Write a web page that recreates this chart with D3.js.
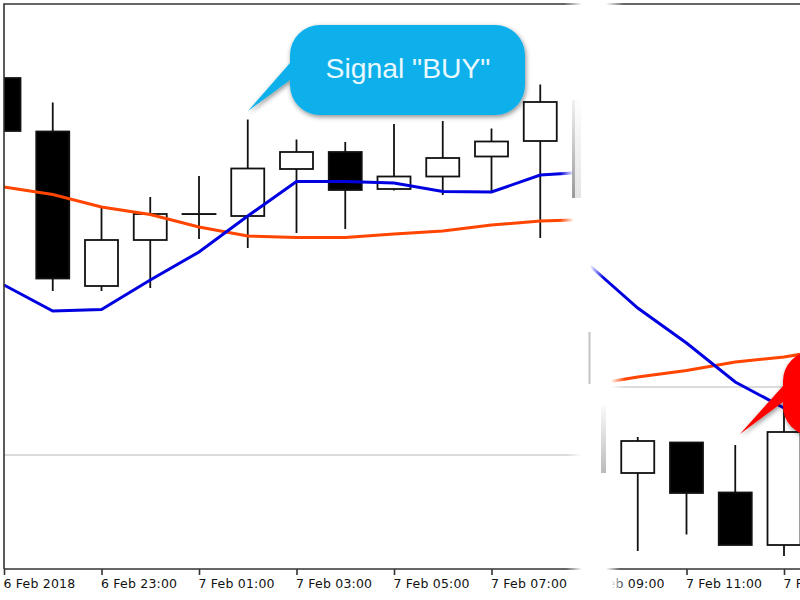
<!DOCTYPE html>
<html>
<head>
<meta charset="utf-8">
<script src="https://cdn.jsdelivr.net/npm/d3@7"></script>
<style>
  html, body { margin: 0; background: #fff; overflow: hidden; }
  svg { display: block; }
</style>
</head>
<body>
<script>
// bar number on the x axis, one bar per hour (bar 12 is lost in the torn strip)
var bars   = [0, 1, 2, 3, 4, 5, 6, 7, 8, 9, 10, 11, 13, 14, 15, 16];
var opens  = [491, 437.5, 283, 329, 355, 353, 400, 417, 380, 392.5, 412.5, 428, 96, 126.5, 76.5, 24];
var highs  = [491, 466.5, 361, 372, 393, 449.5, 429.5, 427, 445, 448, 440.5, 484.5, 132, 126.5, 124, 169];
var lows   = [438, 278, 278, 281, 330, 321, 336, 340, 378.5, 374, 377, 331, 18, 34.5, 24, 13];
var closes = [438, 290.5, 329, 355, 355, 400.5, 417, 379, 392.5, 411, 427.5, 467, 128, 76, 24, 137];

// moving averages, the picture is two charts glued together so each has two pieces
var blueLeft    = [284, 258, 259.5, 289, 317, 353, 387.5, 387.5, 386, 377.5, 377, 394, 397];
var orangeLeft  = [382, 374.5, 362, 354.5, 342, 333, 331.5, 331.5, 335, 338, 344, 348, 349.5];
var blueRight   = [304, 261, 226, 187, 161];
var orangeRight = [184, 192, 198.5, 207, 212, 220];

var tickBars   = [0, 2, 4, 6, 8, 10, 12, 14, 16];
var tickLabels = ["6 Feb 2018", "6 Feb 23:00", "7 Feb 01:00", "7 Feb 03:00", "7 Feb 05:00",
                  "7 Feb 07:00", "7 Feb 09:00", "7 Feb 11:00", "7 Feb 13:00"];

var w = 800;
var h = 600;
var plotTop = 4;
var plotBottom = 569;
var bodyWidth = 33;

var x = d3.scaleLinear().domain([0, 16]).range([4, 784]);
var y = d3.scaleLinear().domain([0, 565]).range([plotBottom, plotTop]);

var svg = d3.select("body")
  .append("svg")
  .attr("width", w)
  .attr("height", h);

var defs = svg.append("defs");

var shadow = defs.append("filter")
  .attr("id", "shadow")
  .attr("x", "-20%").attr("y", "-20%")
  .attr("width", "140%").attr("height", "140%");
shadow.append("feDropShadow")
  .attr("dx", 1).attr("dy", 2)
  .attr("stdDeviation", 2.5)
  .attr("flood-color", "#000")
  .attr("flood-opacity", 0.45);

defs.append("clipPath")
  .attr("id", "plotClip")
  .append("rect")
  .attr("x", 4).attr("y", plotTop)
  .attr("width", w).attr("height", plotBottom - plotTop);

// gradients used on the edges of the torn strip
function fade(id, x1, y2, color, from, to) {
  var g = defs.append("linearGradient")
    .attr("id", id)
    .attr("x1", x1).attr("x2", x1 ? 0 : (y2 ? 0 : 1))
    .attr("y1", 0).attr("y2", y2);
  g.append("stop").attr("offset", 0).attr("stop-color", color).attr("stop-opacity", from);
  g.append("stop").attr("offset", 1).attr("stop-color", color).attr("stop-opacity", to);
}
fade("fadeRight", 0, 0, "#fff", 0, 1);
fade("fadeLeft", 0, 0, "#fff", 1, 0);
fade("sliverDown", 0, 1, "#888", 0.12, 0.85);
fade("sliverUp", 0, 1, "#aaa", 0.05, 0.8);

// horizontal levels
svg.append("line")
  .attr("x1", 4).attr("x2", 580)
  .attr("y1", y(114)).attr("y2", y(114))
  .attr("stroke", "#b8b8b8").attr("stroke-width", 1.2);
svg.append("line")
  .attr("x1", 600).attr("x2", w)
  .attr("y1", y(182)).attr("y2", y(182))
  .attr("stroke", "#b8b8b8").attr("stroke-width", 1.2);

// candles
var candles = svg.append("g")
  .attr("clip-path", "url(#plotClip)")
  .selectAll("g.candle")
  .data(bars)
  .enter()
  .append("g")
  .attr("class", "candle");

candles.append("line")
  .attr("x1", function(d) { return x(d); })
  .attr("x2", function(d) { return x(d); })
  .attr("y1", function(d, i) { return y(highs[i]); })
  .attr("y2", function(d, i) { return y(lows[i]); })
  .attr("stroke", "#111")
  .attr("stroke-width", 1.8);

candles.append("rect")
  .attr("x", function(d) { return x(d) - bodyWidth / 2; })
  .attr("y", function(d, i) { return y(Math.max(opens[i], closes[i])); })
  .attr("width", bodyWidth)
  // a zero height rect is not painted, the doji still needs its bar
  .attr("height", function(d, i) { return Math.max(Math.abs(y(opens[i]) - y(closes[i])), 0.1); })
  .attr("fill", function(d, i) { return closes[i] < opens[i] ? "#000" : "#fff"; })
  .attr("stroke", "#111")
  .attr("stroke-width", 1.8);

// moving averages
function drawLine(values, firstBar, color) {
  var line = d3.line()
    .x(function(d, i) { return x(firstBar + i); })
    .y(function(d) { return y(d); });
  svg.append("path")
    .attr("d", line(values))
    .attr("fill", "none")
    .attr("stroke", color)
    .attr("stroke-width", 3);
}
drawLine(orangeLeft, 0, "#ff4500");
drawLine(blueLeft, 0, "#0000e0");
drawLine(orangeRight, 12, "#ff4500");
drawLine(blueRight, 12, "#0000e0");

// frame and time axis
svg.append("path")
  .attr("d", "M4,569V4H" + w)
  .attr("fill", "none")
  .attr("stroke", "#333")
  .attr("stroke-width", 1.6);

var axis = d3.axisBottom(x)
  .tickValues(tickBars)
  .tickSize(6)
  .tickSizeOuter(0)
  .tickFormat(function(d, i) { return tickLabels[i]; });

var axisG = svg.append("g")
  .attr("transform", "translate(0," + plotBottom + ")")
  .call(axis);
axisG.select(".domain")
  .attr("d", "M4,0H" + w)
  .attr("stroke", "#333")
  .attr("stroke-width", 1.6);
axisG.selectAll(".tick line")
  .attr("stroke", "#333")
  .attr("stroke-width", 1.6);
axisG.selectAll(".tick text")
  .attr("text-anchor", "start")
  .attr("x", -1)
  .attr("y", 10)
  .attr("font-family", "'DejaVu Sans', sans-serif")
  .attr("font-size", "12.5px")
  .attr("letter-spacing", "0.2px")
  .attr("fill", "#111");

// torn strip between the two charts
svg.append("path")
  .attr("d", "M582,0H606V20H590V300H611V560H606V574H611V600H582V400H574V20H582Z")
  .attr("fill", "#fff");
svg.append("rect").attr("x", 560).attr("y", 160).attr("width", 14).attr("height", 70).attr("fill", "url(#fadeRight)");
svg.append("rect").attr("x", 564).attr("y", 0).attr("width", 18).attr("height", 10).attr("fill", "url(#fadeRight)");
svg.append("rect").attr("x", 590).attr("y", 255).attr("width", 14).attr("height", 30).attr("fill", "url(#fadeLeft)");
svg.append("rect").attr("x", 606).attr("y", 0).attr("width", 18).attr("height", 10).attr("fill", "url(#fadeLeft)");
svg.append("rect").attr("x", 611).attr("y", 375).attr("width", 14).attr("height", 16).attr("fill", "url(#fadeLeft)");
svg.append("rect").attr("x", 606).attr("y", 566).attr("width", 14).attr("height", 6).attr("fill", "url(#fadeLeft)");
svg.append("rect").attr("x", 611).attr("y", 575).attr("width", 14).attr("height", 22).attr("fill", "url(#fadeLeft)");
svg.append("rect").attr("x", 566).attr("y", 452).attr("width", 16).attr("height", 6).attr("fill", "url(#fadeRight)");
svg.append("rect").attr("x", 566).attr("y", 566).attr("width", 16).attr("height", 6).attr("fill", "url(#fadeRight)");

// shaded slivers left over from the tear
svg.append("rect").attr("x", 572).attr("y", 100).attr("width", 3).attr("height", 98).attr("fill", "url(#sliverDown)");
svg.append("rect").attr("x", 575).attr("y", 100).attr("width", 6).attr("height", 98).attr("fill", "url(#sliverUp)").attr("opacity", 0.4);
svg.append("rect").attr("x", 588.5).attr("y", 332).attr("width", 2).attr("height", 52).attr("fill", "#c4c4c4");
svg.append("rect").attr("x", 601).attr("y", 405).attr("width", 5).attr("height", 68).attr("fill", "url(#sliverUp)");

// callouts
function callout(d, color) {
  svg.append("path")
    .attr("d", d)
    .attr("fill", color)
    .attr("filter", "url(#shadow)");
}
callout("M320,25H495A30,30 0 0 1 525,55V85A30,30 0 0 1 495,115H320A30,30 0 0 1 290,85V80L248,111L290,63V55A30,30 0 0 1 320,25Z", "#0bb0ea");
callout("M812,351H860V436H812A30,30 0 0 1 783,406V402L740,434L783,386V381A30,30 0 0 1 812,351Z", "#ff0000");

svg.append("text")
  .text("Signal \"BUY\"")
  .attr("x", 408)
  .attr("y", 78)
  .attr("text-anchor", "middle")
  .attr("font-family", "'Liberation Sans', sans-serif")
  .attr("font-size", "28.3px")
  .attr("fill", "#e8f8ff");
</script>
</body>
</html>
